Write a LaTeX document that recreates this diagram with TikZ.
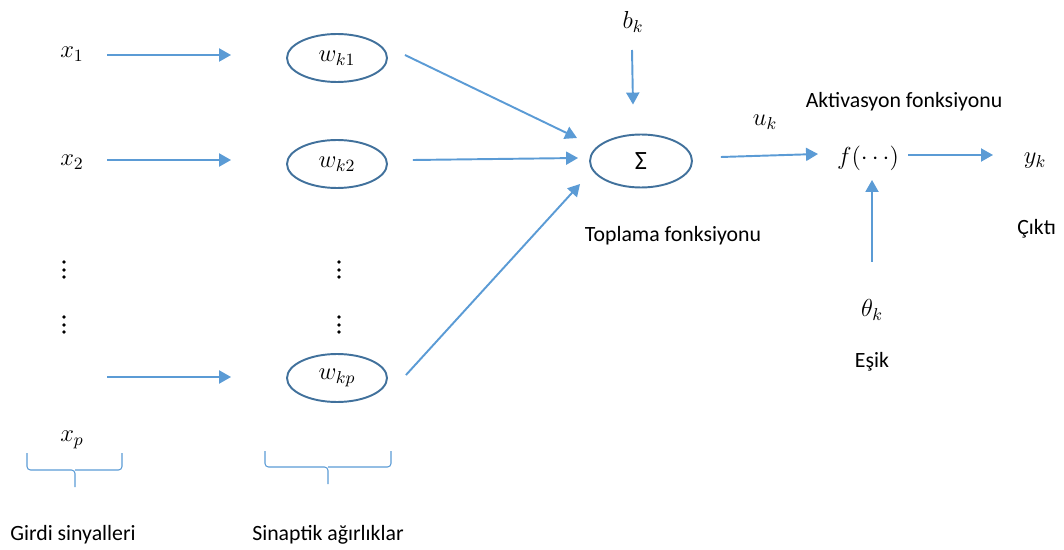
\RequirePackage{fix-cm}
\documentclass[tikz,border=0pt]{standalone}
\usepackage{fontspec}
\setmainfont{Carlito}
\usetikzlibrary{arrows.meta,calc,shapes.geometric}
\definecolor{okmavi}{HTML}{5B9BD5}
\definecolor{kenarmavi}{HTML}{41719C}
\tikzset{
  ok/.style={okmavi, line width=1.1pt, -{Triangle[length=6.8pt,width=7.4pt]}},
  agirlik/.style={ellipse, draw=kenarmavi, line width=1.1pt, inner sep=0pt,
    minimum width=2cm, minimum height=0.96cm, font=\fontsize{14pt}{17pt}\selectfont},
  parantez/.style={okmavi, line width=0.6pt, rounded corners=2pt},
  yazi/.style={inner sep=0pt},
  matem/.style={inner sep=0pt, font=\fontsize{14pt}{17pt}\selectfont},
  nokta/.style={circle, fill=black, inner sep=0pt, minimum size=2.2pt},
  every node/.style={font=\fontsize{12.4pt}{15pt}\selectfont}
}
\begin{document}
\begin{tikzpicture}[x=0.02cm, y=-0.02cm]
    \useasboundingbox (0,0) rectangle (1064,550);

    %girdiler
    \node[matem] (x1) at (72,54) {$x_1$};
    \node[matem] (x2) at (72,162) {$x_2$};
    \node[matem] (xp) at (72,440) {$x_p$};
    \coordinate (g3) at (107,377);

    %sinaptik agirliklar
    \node[agirlik] (w1) at (337,58) {$w_{k1}$};
    \node[agirlik] (w2) at (337,164) {$w_{k2}$};
    \node[agirlik] (wp) at (337,378) {$w_{kp}$};

    %noktalar
    \foreach \yy in {262,270,277,317,325,332} {
        \node[nokta] (xd\yy) at (64,\yy) {};
        \node[nokta] (wd\yy) at (339,\yy) {};
    }

    %toplama ve aktivasyon
    \node[agirlik, minimum width=2.04cm, minimum height=1.06cm,
          font=\fontsize{15pt}{18pt}\selectfont] (top) at (641,161) {Σ};
    \node[matem] (bk) at (633,22) {$b_k$};
    \node[matem] (uk) at (765,122) {$u_k$};
    \node[matem] (f) at (868,158) {$f(\cdots)$};
    \node[matem] (yk) at (1035,161) {$y_k$};
    \node[matem] (tk) at (872,310) {$\theta_k$};

    %etiketler
    \node[yazi] (toplama) at (673,236) {Toplama fonksiyonu};
    \node[yazi] (aktivasyon) at (904,102) {Aktivasyon fonksiyonu};
    \node[yazi, anchor=west] (cikti) at (1017,229) {Çıktı};
    \node[yazi] (esik) at (872,362) {Eşik};
    \node[yazi] (girdi) at (73,535) {Girdi sinyalleri};
    \node[yazi] (sinaptik) at (328,535) {Sinaptik ağırlıklar};

    %oklar
    \draw[ok] ($(x1)+(35,1)$) -- ($(x1 -| w1.west)+(-55,1)$);
    \draw[ok] ($(x2)+(35,-2)$) -- ($(x2 -| w2.west)+(-55,-2)$);
    \draw[ok] (g3) -- ($(g3 -| wp.west)+(-55,0)$);
    \draw[ok] ($(w1.east)+(17,-3)$) -- ($(top.west)+(-12,-23)$);
    \draw[ok] ($(w2.east)+(25,-4)$) -- ($(top.west)+(-11,-3)$);
    \draw[ok] ($(wp.east)+(18,-3)$) -- ($(top.west)+(-9,23)$);
    \draw[ok] ($(bk)+(-1,28)$) -- ($(top.north)+(-8,-29)$);
    \draw[ok] ($(top.east)+(28,-4)$) -- ($(f)+(-50,-4)$);
    \draw[ok] ($(f)+(40,-3)$) -- ($(yk)+(-42,-6)$);
    \draw[ok] ($(tk)+(0,-48)$) -- ($(f)+(4,22)$);

    %parantezler
    \draw[parantez] (27,453) |- (75,470) -- (75,487);
    \draw[parantez] (122,453) |- (75,470);
    \draw[parantez] (265,451) |- (328,467) -- (328,484);
    \draw[parantez] (391,451) |- (328,467);
\end{tikzpicture}
\end{document}
